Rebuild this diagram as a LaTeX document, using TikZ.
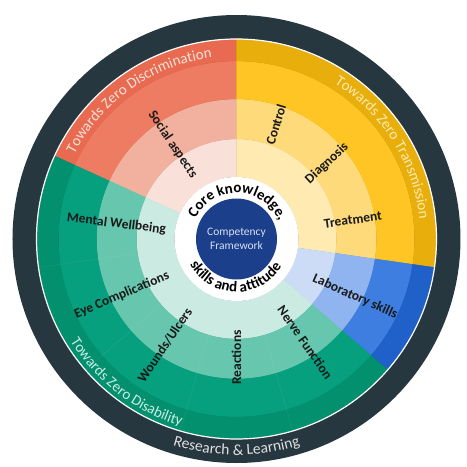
\documentclass[tikz,border=0pt]{standalone}
\usepackage{fontspec}
\setmainfont{Carlito}
\usepackage{tikz}
\usetikzlibrary{decorations.text}

\definecolor{ringdark}{HTML}{263740}
\definecolor{navy}{HTML}{1C3F8C}
\definecolor{or1}{HTML}{F9E1D9}
\definecolor{or2}{HTML}{F2B09F}
\definecolor{or3}{HTML}{ED7C62}
\definecolor{or4}{HTML}{E86A50}
\definecolor{ye1}{HTML}{FFEAB1}
\definecolor{ye2}{HTML}{FFDA7B}
\definecolor{ye3}{HTML}{FEC524}
\definecolor{ye4}{HTML}{E8AF0C}
\definecolor{bl1}{HTML}{CCDCF6}
\definecolor{bl2}{HTML}{8FB4EF}
\definecolor{bl3}{HTML}{3E7EE0}
\definecolor{bl4}{HTML}{1F60C9}
\definecolor{gr1}{HTML}{CBEBE2}
\definecolor{gr2}{HTML}{66C6AE}
\definecolor{gr3}{HTML}{06A07F}
\definecolor{gr4}{HTML}{02906F}

\tikzset{
 lbl/.style={font=\bfseries\fontsize{13.5}{14}\selectfont, text=black!90, inner sep=0pt},
 arctext/.style={decorate, decoration={text along path, text align=center, text={#1}}}
}

\begin{document}
\begin{tikzpicture}[x=1pt, y=1pt]
\useasboundingbox (-236.5,-228) rectangle (230.5,239);

\fill[ringdark] (0,0) circle[radius=224];

\foreach \a/\b/\g in {90/155.45/or, -8.18/90/ye, -40.91/-8.18/bl, 155.45/319.09/gr}
 \foreach \ri/\ro/\k in {62/100/1, 100/140/2, 140/178/3, 178/200/4}
  \filldraw[fill=\g\k, draw=\g\k, line width=0.3] (\a:\ri) arc[start angle=\a, end angle=\b, radius=\ri]
   -- (\b:\ro) arc[start angle=\b, end angle=\a, radius=\ro] -- cycle;

\foreach \t in {188.18, 220.91, 253.64, 286.36}
 \draw[white, opacity=0.06, line width=0.8] (\t:100) -- (\t:200);

\draw[white, line width=1.2] (0,0) circle[radius=200];

\fill[white] (0,0) circle[radius=62];
\node[circle, fill=navy, minimum size=81, inner sep=0pt, align=center,
 text={rgb,255:red,213;green,224;blue,242}, font=\fontsize{11.5}{14}\selectfont] (core) at (0,0) {Competency\\Framework};

\foreach \ang/\rad/\rot/\txt [count=\i] in {124/114/-56/Social aspects, 71/121/73/Control, 40/118/43/Diagnosis, 9.3/118/8/Treatment, -26/132/-24/Laboratory skills, -56.4/124/-55/Nerve Function, -90/118.5/90/Reactions, 236/128/56/{Wounds/Ulcers}, 206/127.5/23/Eye Complications, 172.9/121/-7/Mental Wellbeing}
 \node[lbl, rotate=\rot] (lab-\i) at (\ang:\rad) {\txt};

\path[arctext={|\color{or1}\fontsize{15}{15}\selectfont|Towards Zero Discrimination}] (160:183) arc[start angle=160, end angle=90, radius=183];
\path[arctext={|\color{ye1}\fontsize{15}{15}\selectfont|Towards Zero Transmission}] (72:184) arc[start angle=72, end angle=-8, radius=184];
\path[arctext={|\color{gr1}\fontsize{15}{15}\selectfont|Towards Zero Disability}] (190:195) arc[start angle=190, end angle=275, radius=195];
\path[arctext={|\color{black!12}\fontsize{15.5}{15}\selectfont|Research {\&} Learning}] (225:216) arc[start angle=225, end angle=315, radius=216];

\path[arctext={|\bfseries\fontsize{15}{15}\selectfont|Core knowledge,}] (178:46) arc[start angle=178, end angle=-2, radius=46];
\path[arctext={|\bfseries\fontsize{15}{15}\selectfont|skills and attitude}] (180:53) arc[start angle=180, end angle=357, radius=53];

\end{tikzpicture}
\end{document}
